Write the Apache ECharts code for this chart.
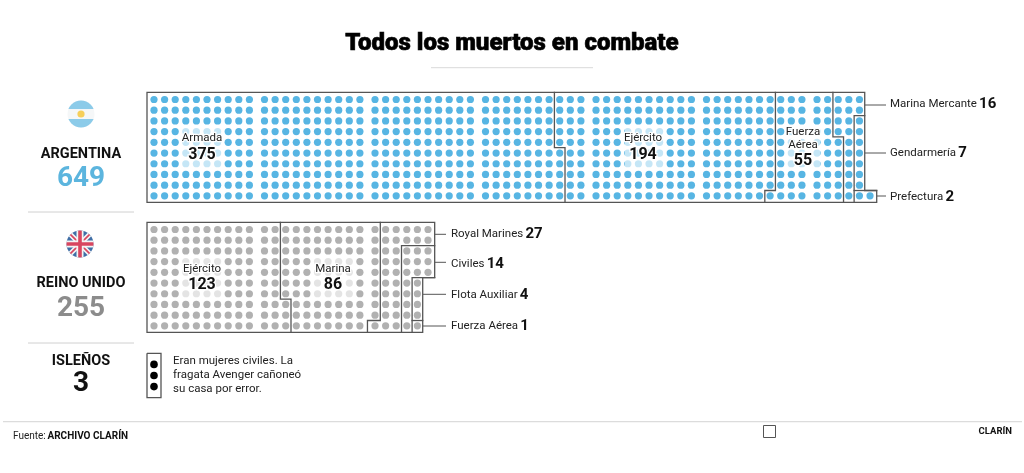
<!DOCTYPE html>
<html><head><meta charset="utf-8">
<script src="https://cdn.jsdelivr.net/npm/echarts@6/dist/echarts.min.js"></script>
<style>html,body{margin:0;padding:0;background:#fff}#c{width:1024px;height:473px}</style>
</head><body><div id="c"></div>
<script>
// ---- data ----
const titleText = 'Todos los muertos en combate';
const argentinaName = 'ARGENTINA', argentinaTotal = 649;
const ukName = 'REINO UNIDO', ukTotal = 255;
const islanderName = 'ISLEÑOS', islanderTotal = 3;
const islanderNote = ['Eran mujeres civiles. La', 'fragata Avenger cañoneó', 'su casa por error.'];
const sourceLabel = 'Fuente:', sourceName = 'ARCHIVO CLARÍN', brandName = 'CLARÍN';

const argentinaGroups = ['Armada', 'Ejército', 'Fuerza Aérea', 'Marina Mercante', 'Gendarmería', 'Prefectura'];
const argentinaValues = [375, 194, 55, 16, 7, 2];
const ukGroups = ['Ejército', 'Marina', 'Royal Marines', 'Civiles', 'Flota Auxiliar', 'Fuerza Aérea'];
const ukValues = [123, 86, 27, 14, 4, 1];

// dots in each column (positive: counted up from the bottom; negative: counted down from the top)
const argentinaColumnDots = [10,10,10,10,10,10,10,10,10,10, 10,10,10,10,10,10,10,10,10,10,
  10,10,10,10,10,10,10,10,10,10, 10,10,10,10,10,10,10,10,10,10, 10,10,10,10,10,10,10,10,10,10,
  10,10,10,10,10,10,10,10,10,10, 10,10,10,10,10,1];
const ukColumnDots = [10,10,10,10,10,10,10,10,10,10, 10,10,10,10,10,10,10,10,10,10, 10,10,10,10,10,-5];
const islanderDots = [3];

// group outlines, as [column, row] corners of the cells
const argentinaOutlines = [
  [[0,0],[65,0],[65,9],[66,9],[66,10],[0,10],[0,0]],
  [[37,0],[37,5],[38,5],[38,10]],
  [[57,0],[57,9],[56,9],[56,10]],
  [[62,0],[62,4],[63,4],[63,10]],
  [[65,2],[64,2],[64,10]],
  [[64,9],[66,9]]
];
const ukOutlines = [
  [[0,0],[26,0],[26,5],[25,5],[25,10],[0,10],[0,0]],
  [[12,0],[12,7],[13,7],[13,10]],
  [[21,0],[21,9],[20,9],[20,10]],
  [[26,2],[23,2],[23,10]],
  [[26,5],[24,5],[24,10]],
  [[24,9],[25,9]]
];

// ---- layout helpers ----
const BLUE = '#57b5e3', GREY = '#b1b1b1', LINE = '#555', INK = '#111';
const FONT = 'Roboto, "Noto Sans", sans-serif';
const blockGap = 0.425, edgeX = 0.66, edgeX2 = 0.63, rowMin = -0.67, rowMax = 9.6, pitch = 10.6;
const xPos = c => c + blockGap * Math.floor(c / 10);

function makeEdge(cols) {
  return c => c <= 0 ? -edgeX
    : c >= cols ? xPos(cols - 1) + edgeX2
    : (xPos(c - 1) + xPos(c)) / 2;
}
const rowEdge = r => r <= 0 ? rowMin : r >= 10 ? rowMax : r - 0.5;

function dotsFrom(columns) {
  const out = [];
  columns.forEach((n, c) => {
    for (let i = 0; i < Math.abs(n); i++) out.push([xPos(c), n > 0 ? 9 - i : i]);
  });
  return out;
}
function outlineSeries(list, edge, axisIndex) {
  return list.map(poly => ({
    type: 'line', xAxisIndex: axisIndex, yAxisIndex: axisIndex, clip: false, silent: true,
    symbol: 'none', z: 3, animation: false,
    lineStyle: { color: LINE, width: 1.3, join: 'miter', cap: 'square' },
    data: poly.map(p => [edge(p[0]), rowEdge(p[1])])
  }));
}
const hidden = o => Object.assign({ type: 'value', show: false, scale: false, splitLine: { show: false } }, o);

const argCols = argentinaColumnDots.length, ukCols = ukColumnDots.length;
const argEdge = makeEdge(argCols), ukEdge = makeEdge(ukCols);
const argMaxX = argEdge(argCols), ukMaxX = ukEdge(ukCols);

const grids = [
  { left: 147, top: 92.3, width: (argMaxX + edgeX) * pitch, height: 110 },
  { left: 147, top: 222.3, width: (ukMaxX + edgeX) * pitch, height: 110 },
  { left: 147, top: 353.3, width: 14, height: 44.4 }
];
const xAxes = [
  hidden({ gridIndex: 0, min: -edgeX, max: argMaxX }),
  hidden({ gridIndex: 1, min: -edgeX, max: ukMaxX }),
  hidden({ gridIndex: 2, min: -1, max: 1 })
];
const yAxes = [
  hidden({ gridIndex: 0, min: rowMin, max: rowMax, inverse: true }),
  hidden({ gridIndex: 1, min: rowMin, max: rowMax, inverse: true }),
  hidden({ gridIndex: 2, min: -1, max: 3, inverse: true })
];
const dotSeries = (data, color, i, size) => ({
  type: 'scatter', xAxisIndex: i, yAxisIndex: i, data, symbolSize: size, silent: true, z: 2, animation: false,
  itemStyle: { color, opacity: 1 }
});
const islanderPoints = [];
for (let i = 0; i < islanderDots[0]; i++) islanderPoints.push([0, i]);

const series = [
  dotSeries(dotsFrom(argentinaColumnDots), BLUE, 0, 7.2),
  dotSeries(dotsFrom(ukColumnDots), GREY, 1, 7.2),
  dotSeries(islanderPoints, '#000', 2, 7.6),
  ...outlineSeries(argentinaOutlines, argEdge, 0),
  ...outlineSeries(ukOutlines, ukEdge, 1),
  { type: 'line', xAxisIndex: 2, yAxisIndex: 2, clip: false, silent: true, symbol: 'none', z: 3, animation: false,
    lineStyle: { color: LINE, width: 1.3, join: 'miter' },
    data: [[-1,-1],[1,-1],[1,3],[-1,3],[-1,-1]] }
];

// ---- graphic annotations ----
const T = (text, x, y, size, weight, fill, align, extra) => ({
  type: 'text', z: 30, silent: true,
  style: Object.assign({ text: String(text), x, y, fontFamily: FONT, fontSize: size, fontWeight: weight,
    fill: fill || INK, align: align || 'left', verticalAlign: 'middle' }, extra || {})
});
const HR = (x1, x2, y, color, w) => ({ type: 'line', z: 20, silent: true,
  shape: { x1, y1: y, x2, y2: y }, style: { stroke: color, lineWidth: w || 1 } });
const halo = { stroke: '#fff', lineWidth: 2.5 };
const veil = (x, y, w, h) => ({ type: 'rect', z: 10, silent: true, shape: { x, y, width: w, height: h, r: 3 },
  style: { fill: 'rgba(255,255,255,0.66)' } });
const inBlock = (x, y, name, val) => [
  T(name, x, y + 0.8, 11.5, 400, '#222', 'center', halo),
  T(val, x, y + 17, 16, 700, INK, 'center', halo)
];
const tagged = (name, val, x, y) => ({
  type: 'text', z: 30, silent: true,
  style: { text: '{a|' + name + '}{s| }{b|' + val + '}', x, y, align: 'left', verticalAlign: 'middle', fill: INK,
    rich: { a: { fontFamily: FONT, fontSize: 11.5, fontWeight: 400, fill: '#222' },
            s: { fontFamily: FONT, fontSize: 9 },
            b: { fontFamily: FONT, fontSize: 15, fontWeight: 700, fill: INK } } }
});
const svg = s => 'data:image/svg+xml;charset=utf-8,' + encodeURIComponent(s);
const flagAR = svg('<svg xmlns="http://www.w3.org/2000/svg" viewBox="0 0 28 28"><defs><clipPath id="c"><circle cx="14" cy="14" r="13.5"/></clipPath></defs><g clip-path="url(#c)"><rect width="28" height="28" fill="#f5f7f8"/><rect width="28" height="9" fill="#8ccbe9"/><rect y="19" width="28" height="9" fill="#8ccbe9"/><circle cx="14" cy="14" r="3.6" fill="#f6cf5a"/></g></svg>');
const flagUK = svg('<svg xmlns="http://www.w3.org/2000/svg" viewBox="0 0 28 28"><defs><clipPath id="c"><circle cx="14" cy="14" r="13.5"/></clipPath></defs><g clip-path="url(#c)"><rect width="28" height="28" fill="#3f6ea6"/><path d="M0 0L28 28M28 0L0 28" stroke="#f4f4f4" stroke-width="5"/><path d="M0 0L28 28M28 0L0 28" stroke="#d8455f" stroke-width="1.6"/><path d="M14 0V28M0 14H28" stroke="#f4f4f4" stroke-width="7"/><path d="M14 0V28M0 14H28" stroke="#d8455f" stroke-width="3.6"/></g></svg>');
const img = (src, cx, cy) => ({ type: 'image', z: 20, silent: true,
  style: { image: src, x: cx - 14, y: cy - 14, width: 28, height: 28 } });

const graphic = [
  T(titleText, 512, 44, 24, 900, '#000', 'center', { stroke: '#000', lineWidth: 0.6 }),
  HR(431, 593, 67.7, '#d9d9d9', 1),
  img(flagAR, 81, 114), img(flagUK, 80, 244),
  T(argentinaName, 81, 154, 14.5, 700, INK, 'center'),
  T(argentinaTotal, 81, 179, 28, 700, '#5cb5de', 'center'),
  T(ukName, 81, 283, 14.5, 700, INK, 'center'),
  T(ukTotal, 81, 309, 28, 700, '#8c8c8c', 'center'),
  T(islanderName, 81, 361.5, 14.5, 700, INK, 'center'),
  T(islanderTotal, 81, 384, 28, 700, INK, 'center'),
  HR(28, 134, 212, '#d0d0d0', 1), HR(28, 134, 343, '#d0d0d0', 1),

  veil(181, 126, 42, 43), veil(625, 126, 40, 43), veil(786, 126, 34, 43),
  veil(181, 256, 42, 43), veil(312, 256, 42, 43),
  ...inBlock(202, 137.7, argentinaGroups[0], argentinaValues[0]),
  ...inBlock(643, 137.7, argentinaGroups[1], argentinaValues[1]),
  T('Fuerza', 803, 132.5, 11.5, 400, '#222', 'center', halo),
  T('Aérea', 803, 144.8, 11.5, 400, '#222', 'center', halo),
  T(argentinaValues[2], 803, 161, 16, 700, INK, 'center', halo),
  ...inBlock(202, 268, ukGroups[0], ukValues[0]),
  ...inBlock(333, 268, ukGroups[1], ukValues[1]),

  HR(865, 886, 105, LINE), HR(865, 886, 153, LINE), HR(877, 886, 196, LINE),
  tagged(argentinaGroups[3], argentinaValues[3], 890, 104),
  tagged(argentinaGroups[4], argentinaValues[4], 890, 153),
  tagged(argentinaGroups[5], argentinaValues[5], 890, 197),

  HR(435, 446, 234.3, LINE), HR(435, 446, 262.3, LINE), HR(423, 446, 294.3, LINE), HR(423, 446, 326, LINE),
  tagged(ukGroups[2], ukValues[2], 451, 234),
  tagged(ukGroups[3], ukValues[3], 451, 264),
  tagged(ukGroups[4], ukValues[4], 451, 295),
  tagged(ukGroups[5], ukValues[5], 451, 326),

  T(islanderNote[0], 173, 361, 11.5, 400, '#222'),
  T(islanderNote[1], 173, 375.5, 11.5, 400, '#222'),
  T(islanderNote[2], 173, 389, 11.5, 400, '#222'),

  HR(3, 1022, 421.7, '#dcdcdc', 1.2),
  { type: 'text', z: 30, silent: true, style: {
      text: '{a|' + sourceLabel + '}{s| }{b|' + sourceName + '}', x: 13, y: 436, align: 'left', verticalAlign: 'middle', fill: INK,
      rich: { a: { fontFamily: FONT, fontSize: 10, fontWeight: 400, fill: '#222' },
              s: { fontFamily: FONT, fontSize: 7 },
              b: { fontFamily: FONT, fontSize: 10, fontWeight: 700, fill: INK } } } },
  { type: 'rect', z: 30, silent: true, shape: { x: 763.5, y: 425.5, width: 12, height: 12 },
    style: { fill: 'none', stroke: '#555', lineWidth: 1 } },
  T(brandName, 1012, 431.5, 9.5, 700, INK, 'right')
];

const chart = echarts.init(document.getElementById('c'), null, { renderer: 'canvas', width: 1024, height: 473 });
chart.setOption({ backgroundColor: '#fff', animation: false, tooltip: { show: false }, legend: { show: false },
  grid: grids, xAxis: xAxes, yAxis: yAxes, series, graphic: { elements: graphic } });
</script>
</body></html>
